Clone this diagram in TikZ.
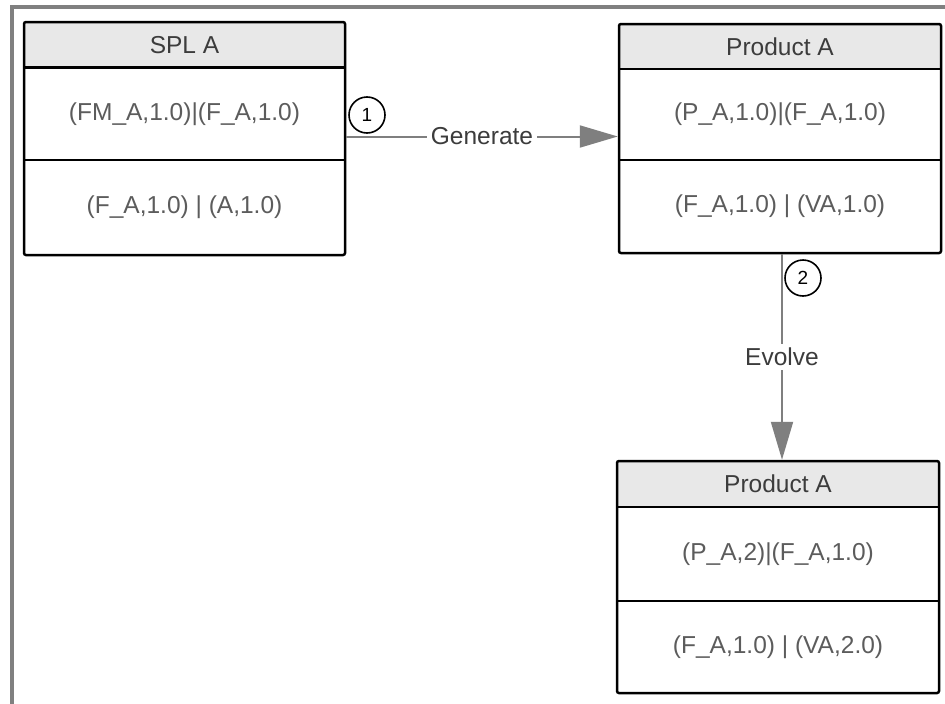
\documentclass[tikz,border=0pt]{standalone}
\usepackage{fontspec}
\setmainfont{Liberation Sans}
\usetikzlibrary{arrows.meta}
\definecolor{framegray}{HTML}{808080}
\definecolor{headfill}{HTML}{E8E8E8}
\definecolor{headtext}{HTML}{3C3C3C}
\definecolor{bodytext}{HTML}{5C5C5C}
\definecolor{linkgray}{HTML}{7F7F7F}
\tikzset{
  x=1pt, y=-1pt,
  boxframe/.style={draw=black, line width=2.5pt, rounded corners=2pt, inner sep=0pt},
  headpart/.style={fill=headfill, inner sep=0pt, text=headtext, font=\fontsize{24.5}{28}\selectfont},
  bodypart/.style={inner sep=0pt, text=bodytext, font=\fontsize{24.5}{28}\selectfont},
  divider/.style={draw=black, line width=2.5pt},
  link/.style={draw=linkgray, line width=2pt, -{Triangle[length=38pt,width=22pt]}},
  linklabel/.style={fill=white, inner sep=4pt, text=headtext, font=\fontsize{24.5}{28}\selectfont},
  numcircle/.style={circle, draw=black, line width=1.6pt, fill=white, minimum size=36pt, inner sep=0pt, font=\fontsize{19}{21}\selectfont}
}
\begin{document}
\begin{tikzpicture}
\useasboundingbox (0,0) rectangle (945,704);
\fill[white] (0,0) rectangle (945,704);
% outer frame (partly visible)
\draw[framegray, line width=3.5pt] (12,720) -- (12,7) -- (960,7);

% ---- SPL A ----
\node[headpart, minimum width=319pt, minimum height=45pt] (splh) at (184.5,45) {SPL A};
\node[bodypart, minimum width=319pt, minimum height=92pt] (splm) at (184.5,114) {(FM\_A,1.0)|(F\_A,1.0)};
\node[bodypart, minimum width=319pt, minimum height=95pt] (splb) at (184.5,207.5) {(F\_A,1.0) | (A,1.0)};
\draw[divider] (splh.south west) -- (splh.south east);
\draw[divider] (splm.south west) -- (splm.south east);
\node[boxframe, minimum width=321pt, minimum height=233pt] (spl) at (184.5,138.5) {};

% ---- Product A (top) ----
\node[headpart, minimum width=320pt, minimum height=45pt] (p1h) at (780,46.5) {Product A};
\node[bodypart, minimum width=320pt, minimum height=91pt] (p1m) at (780,114.5) {(P\_A,1.0)|(F\_A,1.0)};
\node[bodypart, minimum width=320pt, minimum height=93pt] (p1b) at (780,206.5) {(F\_A,1.0) | (VA,1.0)};
\draw[divider] (p1h.south west) -- (p1h.south east);
\draw[divider] (p1m.south west) -- (p1m.south east);
\node[boxframe, minimum width=322pt, minimum height=229pt] (p1) at (780,138.5) {};

% ---- Product A (bottom) ----
\node[headpart, minimum width=320pt, minimum height=46pt] (p2h) at (778,484) {Product A};
\node[bodypart, minimum width=320pt, minimum height=94pt] (p2m) at (778,554) {(P\_A,2)|(F\_A,1.0)};
\node[bodypart, minimum width=320pt, minimum height=92pt] (p2b) at (778,647) {(F\_A,1.0) | (VA,2.0)};
\draw[divider] (p2h.south west) -- (p2h.south east);
\draw[divider] (p2m.south west) -- (p2m.south east);
\node[boxframe, minimum width=322pt, minimum height=232pt] (p2) at (778,577) {};

% ---- connectors ----
\draw[link] ([yshift=2pt]spl.east) -- node[linklabel] {Generate} ([yshift=2pt]p1.west);
\coordinate (evs) at ([xshift=2pt]p1.south);
\coordinate (eve) at ([xshift=4pt]p2.north);
\draw[link] (evs) -- node[linklabel] {Evolve} (eve);

\node[numcircle] (n1) at (367,115) {1};
\node[numcircle] (n2) at (803,278) {2};
\end{tikzpicture}
\end{document}
